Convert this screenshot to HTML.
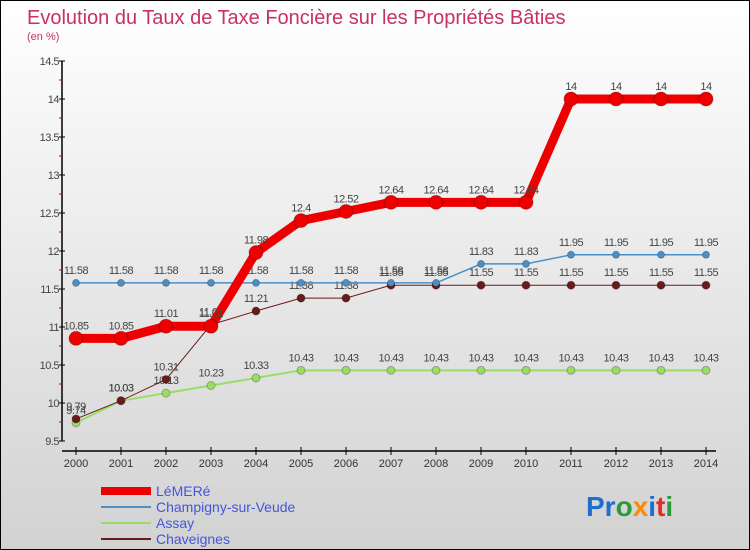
<!DOCTYPE html>
<html><head><meta charset="utf-8"><style>
body{margin:0}
#c{width:750px;height:550px;box-sizing:border-box;border:1px solid #000;background:linear-gradient(#ffffff,#d2d2d2);position:relative;font-family:"Liberation Sans",sans-serif;overflow:hidden}
</style></head><body>
<div id="c">
<svg id="s" width="750" height="550" style="position:absolute;left:0;top:0">
<text x="26" y="23" font-size="20" fill="#c8306a">Evolution du Taux de Taxe Foncière sur les Propriétés Bâties</text>
<text x="26" y="39" font-size="11" fill="#c8306a">(en %)</text>
<text x="585" y="515" font-size="28" font-weight="bold"><tspan fill="#1a6fd0">Pr</tspan><tspan fill="#2a9a3a">o</tspan><tspan fill="#ff8a00">x</tspan><tspan fill="#1a6fd0">i</tspan><tspan fill="#e03020">t</tspan><tspan fill="#2a9a3a">i</tspan></text>
</svg>
</div>
<script>
const years=[2000,2001,2002,2003,2004,2005,2006,2007,2008,2009,2010,2011,2012,2013,2014];
const lemere=[10.85,10.85,11.01,11.01,11.98,12.4,12.52,12.64,12.64,12.64,12.64,14,14,14,14];
const champigny=[11.58,11.58,11.58,11.58,11.58,11.58,11.58,11.58,11.58,11.83,11.83,11.95,11.95,11.95,11.95];
const assay=[9.74,10.03,10.13,10.23,10.33,10.43,10.43,10.43,10.43,10.43,10.43,10.43,10.43,10.43,10.43];
const chaveignes=[9.79,10.03,10.31,11.03,11.21,11.38,11.38,11.55,11.55,11.55,11.55,11.55,11.55,11.55,11.55];
const yTicks=[9.5,10,10.5,11,11.5,12,12.5,13,13.5,14,14.5];
const seriesNames=["LéMERé","Champigny-sur-Veude","Assay","Chaveignes"];
const s=document.getElementById('s');const NS='http://www.w3.org/2000/svg';
const X=i=>75+i*45, Y=v=>440-(v-9.5)*76;
function mk(t,a,p){const e=document.createElementNS(NS,t);for(const k in a)e.setAttribute(k,a[k]);(p||s).appendChild(e);return e;}
let ax=mk('line',{x1:61,y1:60,x2:61,y2:440,stroke:'#000','stroke-width':1.5});


let bx=mk('line',{x1:61,y1:450,x2:715,y2:450,stroke:'#000','stroke-width':1.5});


yTicks.forEach(v=>{mk('line',{x1:58,x2:64,y1:Y(v),y2:Y(v),stroke:'#000'});
if(v<14.5)mk('line',{x1:58,x2:61,y1:Y(v+0.25),y2:Y(v+0.25),stroke:'#d00'});
const t=mk('text',{x:58,y:Y(v)+4,'font-size':11,'text-anchor':'end',fill:'#444','letter-spacing':'-0.5'});t.textContent=String(v);

});
years.forEach((y,i)=>{mk('line',{x1:X(i),x2:X(i),y1:446,y2:454,stroke:'#000'});
const t=mk('text',{x:X(i),y:466,'font-size':11,'text-anchor':'middle',fill:'#333'});t.textContent=y;

});
function series(d,color,w,r,name){
const g=mk('g',{});


mk('polyline',{points:d.map((v,i)=>X(i)+','+Y(v)).join(' '),fill:'none',stroke:color,'stroke-width':w,'stroke-linejoin':'round'},g);
d.forEach((v,i)=>{const c=mk('circle',{cx:X(i),cy:Y(v),r:r,fill:color,stroke:'rgba(0,0,0,0.25)'},g);


const t=mk('text',{x:X(i),y:Y(v)-9,'font-size':11,'text-anchor':'middle',fill:'#444','letter-spacing':'-0.5'},g);t.textContent=String(v);

});}
series(assay,'#99dd66',2,4,'series-assay');
series(chaveignes,'#6b1a1a',1,4,'series-chaveignes');
series(champigny,'#4a90c8',1.5,3.5,'series-champigny');
series(lemere,'#ee0000',9,7,'series-lemere');
const cols=['#ee0000','#4a90c8','#99dd66','#6b1a1a'],ws=[8,2,2,2];
seriesNames.forEach((n,i)=>{const yy=490+i*16;
const g=mk('g',{});


mk('line',{x1:100,x2:150,y1:yy,y2:yy,stroke:cols[i],'stroke-width':ws[i]},g);
const t=mk('text',{x:155,y:yy+5,'font-size':14,fill:'#4455dd'},g);t.textContent=n;});
</script>
</body></html>
